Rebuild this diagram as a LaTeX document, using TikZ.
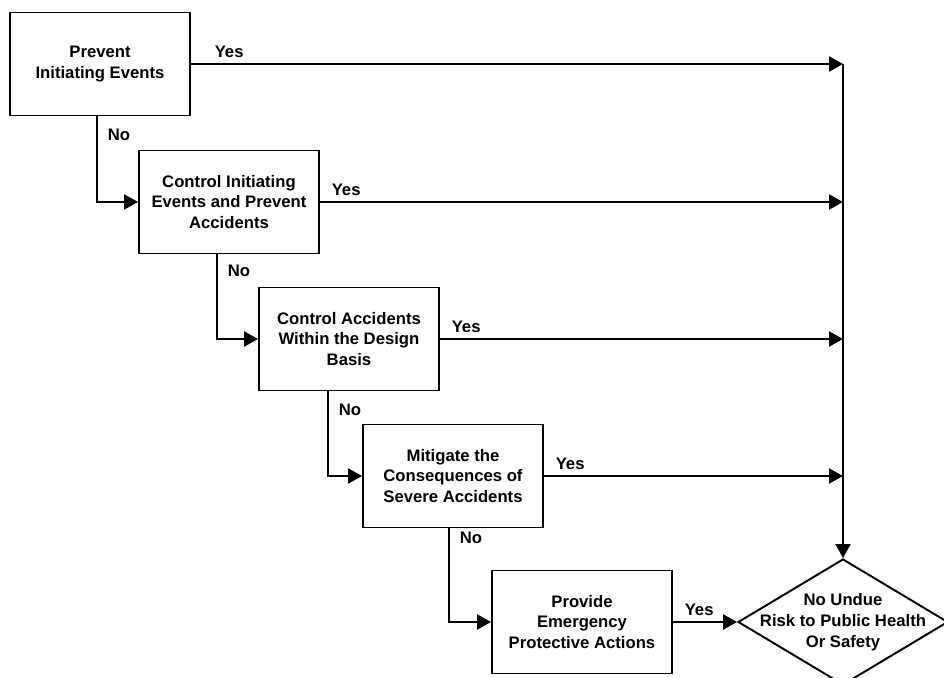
\documentclass[tikz,border=0pt]{standalone}
\usepackage{fontspec}
\setmainfont{Liberation Sans}
\usetikzlibrary{shapes.geometric,arrows.meta}

\begin{document}
\begin{tikzpicture} [x=0.02cm,y=-0.02cm,line width=1.1pt,
	every node/.style={align=center,font=\fontsize{9.5}{11.8}\selectfont\bfseries},
	stage/.style={draw,minimum width=3.6cm,minimum height=2.06cm,inner sep=2pt},
	goal/.style={draw,diamond,minimum width=4.2cm,minimum height=2.52cm,inner sep=0pt},
	flow/.style={-{Triangle[length=0.28cm,width=0.3cm]}},
	yes/.style={pos=0,anchor=south west,xshift=0.1cm},
	no/.style={pos=0,anchor=north west,xshift=0.08cm,yshift=-0.12cm}]
	\useasboundingbox (0,0) rectangle (944,678);
	\node [stage] (p1) at (100,64) {Prevent\\Initiating Events};
	\node [stage] (p2) at (229,202) {Control Initiating\\Events and Prevent\\Accidents};
	\node [stage] (p3) at (349,339) {Control Accidents\\Within the Design\\Basis};
	\node [stage] (p4) at (453,476) {Mitigate the\\Consequences of\\Severe Accidents};
	\node [stage] (p5) at (582,622) {Provide\\Emergency\\Protective Actions};
	\node [goal,label={[align=center]center:No Undue\\Risk to Public Health\\Or Safety}] (safe) at (843,622) {};
	\coordinate (top) at (p1.east -| safe.north);
	\draw [flow] (p1.east) -- node [yes,xshift=0.24cm] {Yes} (top);
	\draw [flow] (p2.east) -- node [yes] {Yes} (p2.east -| safe.north);
	\draw [flow] (p3.east) -- node [yes] {Yes} (p3.east -| safe.north);
	\draw [flow] (p4.east) -- node [yes] {Yes} (p4.east -| safe.north);
	\draw [flow] (p5.east) -- node [yes] {Yes} (safe.west);
	\draw [flow] (top) -- (safe.north);
	\draw [flow] ([xshift=-0.06cm]p1.south) |- node [no] {No} (p2.west);
	\draw [flow] ([xshift=-0.24cm]p2.south) |- node [no,yshift=0.04cm] {No} (p3.west);
	\draw [flow] ([xshift=-0.42cm]p3.south) |- node [no] {No} (p4.west);
	\draw [flow] ([xshift=-0.08cm]p4.south) |- node [no,yshift=0.18cm] {No} (p5.west);
\end{tikzpicture}
\end{document}
